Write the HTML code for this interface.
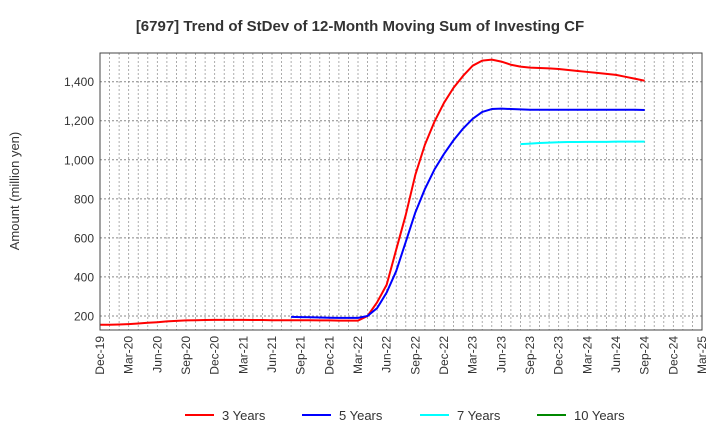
<!DOCTYPE html>
<html><head><meta charset="utf-8"><style>
body{margin:0;background:#fff;font-family:"Liberation Sans",sans-serif}
</style></head><body>
<svg id="c" width="720" height="440" xmlns="http://www.w3.org/2000/svg" font-family="Liberation Sans, sans-serif">
<text x="360" y="31" text-anchor="middle" font-size="15" font-weight="bold" fill="#333">[6797]  Trend of StDev of 12-Month Moving Sum of Investing CF</text>
<text transform="translate(19,191) rotate(-90)" text-anchor="middle" font-size="13" fill="#333">Amount (million yen)</text>
<g id="grid"></g><g id="series"></g><g id="axes"></g>
<g font-size="13" fill="#333">
<g><line x1="185" y1="415" x2="214" y2="415" stroke="#f00" stroke-width="2"/><text x="222" y="420">3 Years</text></g>
<g><line x1="302" y1="415" x2="331" y2="415" stroke="#00f" stroke-width="2"/><text x="339" y="420">5 Years</text></g>
<g><line x1="420" y1="415" x2="449" y2="415" stroke="#0ff" stroke-width="2"/><text x="457" y="420">7 Years</text></g>
<g><line x1="537" y1="415" x2="566" y2="415" stroke="#080" stroke-width="2"/><text x="574" y="420">10 Years</text></g>
</g>
</svg>
<script>
const xLabels=["Dec-19","Mar-20","Jun-20","Sep-20","Dec-20","Mar-21","Jun-21","Sep-21","Dec-21","Mar-22","Jun-22","Sep-22","Dec-22","Mar-23","Jun-23","Sep-23","Dec-23","Mar-24","Jun-24","Sep-24","Dec-24","Mar-25"];
const yTicks=[200,400,600,800,1000,1200,1400];
const s3start=0;
const s3=[155,155,156,158,161,165,168,172,175,177,178,179,180,180,180,180,179,179,178,178,178,178,178,177,177,176,176,176,200,270,360,540,718,923,1077,1195,1292,1369,1430,1482,1508,1513,1503,1487,1477,1472,1470,1468,1465,1460,1455,1450,1445,1440,1435,1425,1415,1405];
const s5start=20;
const s5=[195,194,193,192,191,190,190,190,200,240,320,430,580,730,850,950,1030,1100,1160,1210,1245,1260,1262,1260,1258,1256,1256,1256,1256,1256,1256,1256,1256,1256,1256,1256,1256,1255];
const s7start=44;
const s7=[1080,1083,1086,1088,1090,1091,1091,1092,1092,1092,1093,1093,1093,1093];
const s10start=0;
const s10=[];
const X0=100,X1=702,Y0=330,Y1=53,NM=63;
const vmin=128,vmax=1547;
const xs=i=>X0+i*(X1-X0)/NM;
const ys=v=>Y0-(v-vmin)*(Y0-Y1)/(vmax-vmin);
const NS="http://www.w3.org/2000/svg";
function mk(t,a,p){const e=document.createElementNS(NS,t);for(const k in a)e.setAttribute(k,a[k]);p.appendChild(e);return e;}
const grid=document.getElementById('grid'),axes=document.getElementById('axes'),ser=document.getElementById('series');
for(let m=1;m<NM;m++){const l=mk('line',{x1:xs(m),x2:xs(m),y1:Y1,y2:Y0,stroke:'#999','stroke-width':0.8,'stroke-dasharray':'2,2'},grid);

}
yTicks.forEach(v=>{const l=mk('line',{x1:X0,x2:X1,y1:ys(v),y2:ys(v),stroke:'#888','stroke-width':1,'stroke-dasharray':'2,2'},grid);


const t=mk('text',{x:X0-6,y:ys(v)+4.5,'text-anchor':'end','font-size':12,fill:'#333'},axes);
t.textContent=v.toLocaleString('en-US');

});
xLabels.forEach((s,i)=>{const x=xs(i*3);const t=mk('text',{transform:`translate(${x+4},${Y0+6}) rotate(-90)`,'text-anchor':'end','font-size':12,fill:'#333'},axes);
t.textContent=s;

});
const fr=mk('rect',{x:X0,y:Y1,width:X1-X0,height:Y0-Y1,fill:'none',stroke:'#444','stroke-width':1},axes);


function line(d,st,c,n){if(!d.length)return;const p=mk('polyline',{points:d.map((v,i)=>xs(st+i)+','+ys(v)).join(' '),fill:'none',stroke:c,'stroke-width':2,'stroke-linejoin':'round'},ser);

}
line(s3,s3start,'#f00','series-3-years');
line(s5,s5start,'#00f','series-5-years');
line(s7,s7start,'#0ff','series-7-years');
line(s10,s10start,'#080','series-10-years');
</script>
</body></html>
